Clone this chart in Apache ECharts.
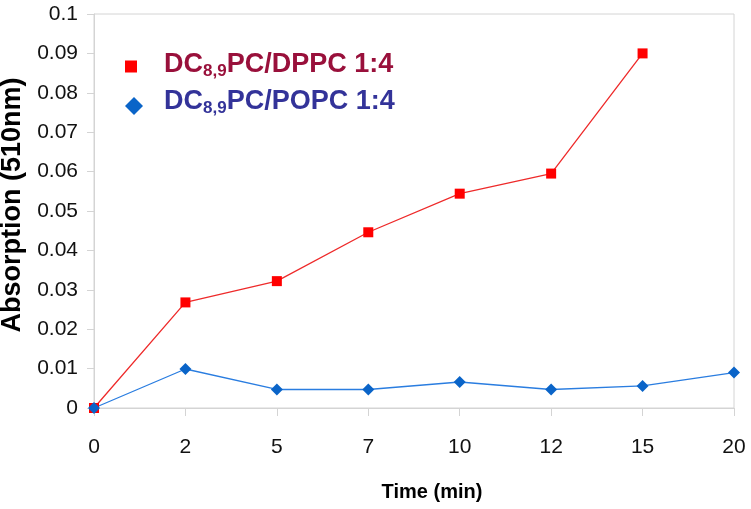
<!DOCTYPE html>
<html>
<head>
<meta charset="utf-8">
<script src="https://cdn.jsdelivr.net/npm/echarts@6/dist/echarts.min.js"></script>
<style>html,body{margin:0;padding:0;background:#fff}#c{width:751px;height:509px}</style>
</head>
<body>
<div id="c"></div>
<script>
var categories = ['0', '2', '5', '7', '10', '12', '15', '20'];
var dppcValues = [0, 0.0268, 0.0322, 0.0446, 0.0544, 0.0595, 0.090, null];
var popcValues = [0, 0.0099, 0.0047, 0.0047, 0.0066, 0.0047, 0.0056, 0.0090];
var seriesNames = ['DC8,9PC/DPPC 1:4', 'DC8,9PC/POPC 1:4'];
var yTicks = { min: 0, max: 0.1, interval: 0.01 };

var chart = echarts.init(document.getElementById('c'), null, { renderer: 'canvas' });
var sans = '"Liberation Sans", Arial, sans-serif';
var gray = '#d4d4d4';

chart.setOption({
  animation: false,
  backgroundColor: '#fff',
  grid: { left: 94, right: 17, top: 14, bottom: 101, show: true, borderColor: gray, borderWidth: 1, containLabel: false, outerBoundsMode: 'none' },
  legend: {
    orient: 'vertical',
    left: 120,
    top: 46,
    itemGap: 9,
    itemWidth: 18,
    itemHeight: 26,
    data: [
      { name: seriesNames[0], icon: 'path://M0,0 M18,26 M0,9 L12,9 L12,21 L0,21 Z', textStyle: { color: '#99103b' } },
      { name: seriesNames[1], icon: 'path://M0,0 M9,8 L18,17 L9,26 L0,17 Z', textStyle: { color: '#333399' } }
    ],
    formatter: function (name) {
      var parts = name.split('8,9');
      return '{g|}{m|' + parts[0] + '}{s|8,9}{m|' + parts[1] + '}';
    },
    textStyle: {
      rich: {
        g: { width: 16, fontSize: 27, lineHeight: 30 },
        m: { fontFamily: sans, fontWeight: 'bold', fontSize: 27, lineHeight: 30 },
        s: { fontFamily: sans, fontWeight: 'bold', fontSize: 17, lineHeight: 10, verticalAlign: 'bottom' }
      }
    }
  },
  xAxis: {
    type: 'category',
    data: categories,
    boundaryGap: false,
    axisLine: { lineStyle: { color: gray, width: 1 } },
    axisTick: { show: true, length: 8, lineStyle: { color: gray } },
    axisLabel: { color: '#111', fontFamily: sans, fontSize: 21, margin: 29 },
    name: 'Time (min)',
    nameLocation: 'middle',
    nameGap: 74,
    nameTextStyle: { color: '#000', fontFamily: sans, fontWeight: 'bold', fontSize: 20, padding: [0, 0, 0, 36] }
  },
  yAxis: {
    type: 'value',
    min: yTicks.min,
    max: yTicks.max,
    interval: yTicks.interval,
    splitLine: { show: false },
    axisLine: { show: true, lineStyle: { color: gray, width: 1 } },
    axisTick: { show: true, length: 7, lineStyle: { color: gray } },
    axisLabel: { color: '#111', fontFamily: sans, fontSize: 21, margin: 16 },
    name: 'Absorption (510nm)',
    nameLocation: 'middle',
    nameGap: 60,
    nameTextStyle: { color: '#000', fontFamily: sans, fontWeight: 'bold', fontSize: 27, padding: [0, 0, 0, 12] }
  },
  series: [
    {
      name: seriesNames[0],
      type: 'line',
      data: dppcValues,
      symbol: 'rect',
      symbolSize: 10,
      connectNulls: false,
      itemStyle: { color: '#ff0000' },
      lineStyle: { color: '#ee2a2a', width: 1.3 }
    },
    {
      name: seriesNames[1],
      type: 'line',
      data: popcValues,
      symbol: 'diamond',
      symbolSize: 12,
      itemStyle: { color: '#0a64c8' },
      lineStyle: { color: '#2a7de0', width: 1.3 }
    }
  ]
});
</script>
</body>
</html>
